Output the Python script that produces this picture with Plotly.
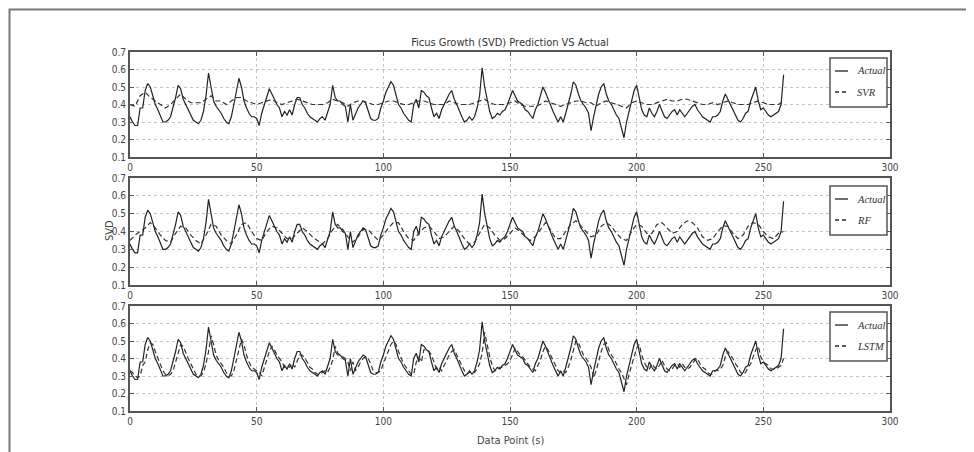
import plotly.graph_objects as go

# ---------------- data ----------------
actual = [
    .33, .30, .28, .28, .38, .38, .48, .52, .50, .45,
    .40, .37, .33, .30, .30, .31, .33, .38, .44, .51,
    .49, .43, .40, .37, .34, .31, .30, .29, .31, .36,
    .45, .58, .50, .42, .39, .37, .35, .32, .30, .29,
    .33, .40, .48, .55, .50, .42, .38, .35, .33, .33,
    .32, .28, .35, .40, .45, .49, .46, .43, .40, .38,
    .33, .36, .34, .37, .34, .40, .44, .44, .40, .38,
    .35, .33, .32, .31, .30, .32, .33, .31, .35, .40,
    .51, .44, .42, .42, .40, .39, .30, .40, .31, .35,
    .38, .40, .42, .41, .37, .32, .31, .31, .32, .38,
    .42, .47, .50, .53, .51, .45, .40, .38, .35, .33,
    .31, .30, .40, .43, .38, .48, .47, .45, .44, .38,
    .33, .35, .32, .37, .40, .43, .46, .48, .43, .40,
    .36, .33, .30, .31, .33, .31, .33, .38, .45, .61,
    .50, .42, .36, .32, .33, .35, .34, .36, .37, .40,
    .44, .48, .45, .42, .41, .40, .37, .36, .34, .32,
    .37, .40, .45, .50, .47, .43, .40, .36, .33, .30,
    .33, .30, .35, .40, .46, .53, .51, .46, .42, .40,
    .38, .35, .25, .33, .40, .46, .50, .52, .46, .42,
    .40, .37, .34, .32, .27, .21, .30, .36, .41, .48,
    .51, .43, .37, .34, .33, .38, .35, .33, .36, .40,
    .36, .33, .32, .34, .36, .37, .34, .37, .35, .33,
    .35, .37, .39, .40, .37, .35, .33, .32, .31, .30,
    .33, .33, .34, .36, .42, .46, .43, .40, .37, .34,
    .31, .30, .32, .35, .36, .42, .46, .50, .42, .37,
    .38, .36, .34, .33, .34, .35, .36, .40, .57,
]
x_actual = list(range(len(actual)))

lstm = [
    .33, .32, .30, .29, .30, .36, .38, .45, .49, .48,
    .44, .40, .37, .33, .31, .30, .31, .33, .38, .43,
    .48, .47, .43, .40, .37, .34, .31, .30, .30, .32,
    .37, .44, .53, .48, .42, .39, .37, .35, .32, .30,
    .30, .33, .39, .46, .51, .48, .42, .38, .35, .34,
    .33, .32, .30, .35, .39, .44, .47, .45, .42, .40,
    .38, .35, .36, .35, .37, .35, .39, .42, .42, .40,
    .38, .35, .34, .32, .31, .31, .32, .33, .32, .35,
    .39, .47, .43, .42, .41, .40, .38, .33, .38, .33,
    .35, .38, .40, .41, .40, .37, .33, .32, .32, .33,
    .37, .41, .45, .48, .50, .48, .44, .40, .37, .35,
    .33, .31, .31, .38, .41, .38, .45, .45, .44, .42,
    .38, .34, .35, .33, .36, .39, .42, .44, .45, .42,
    .39, .36, .33, .31, .32, .33, .32, .34, .37, .43,
    .55, .47, .41, .36, .33, .33, .35, .35, .36, .37,
    .39, .42, .46, .44, .42, .41, .39, .37, .35, .34,
    .33, .36, .39, .44, .47, .45, .42, .39, .36, .33,
    .32, .33, .32, .35, .39, .44, .50, .49, .45, .42,
    .40, .38, .35, .29, .33, .39, .44, .48, .49, .45,
    .42, .40, .37, .34, .32, .28, .25, .31, .36, .41,
    .46, .48, .42, .38, .35, .34, .37, .35, .34, .36,
    .39, .36, .34, .33, .34, .36, .37, .35, .37, .35,
    .34, .35, .37, .39, .40, .37, .35, .34, .32, .31,
    .31, .33, .33, .34, .36, .41, .44, .42, .40, .37,
    .35, .32, .31, .32, .35, .37, .41, .45, .47, .41,
    .38, .37, .36, .34, .34, .34, .35, .36, .40,
]
x_lstm = list(range(len(lstm)))

svr = [
    .40, .39, .45, .47, .44, .42, .40, .38, .40, .43,
    .46, .43, .41, .41, .41, .43, .45, .42, .42, .40,
    .42, .44, .44, .42, .41, .40, .41, .42, .43, .41,
    .40, .41, .42, .43, .42, .41, .40, .40, .40, .41,
    .43, .42, .41, .39, .41, .42, .42, .41, .40, .40,
    .41, .42, .42, .41, .40, .40, .41, .42, .42, .41,
    .40, .40, .40, .42, .41, .40, .40, .40, .41, .42,
    .43, .41, .40, .40, .40, .41, .42, .40, .39, .39,
    .39, .40, .42, .41, .40, .39, .40, .41, .42, .42,
    .41, .41, .39, .41, .42, .41, .40, .39, .38, .41,
    .42, .41, .40, .40, .41, .42, .43, .42, .42, .43,
    .43, .42, .41, .40, .40, .41, .40, .41, .42, .41,
    .40, .40, .40, .41, .42, .41, .40, .40, .40, .42,
]
x_svr = list(range(0, 2 * len(svr), 2))

rf = [
    .35, .38, .40, .42, .45, .42, .38, .35, .34, .39,
    .43, .42, .38, .35, .33, .38, .44, .43, .38, .35,
    .33, .38, .44, .45, .40, .36, .35, .40, .43, .42,
    .39, .36, .36, .39, .42, .40, .37, .35, .33, .36,
    .41, .44, .41, .37, .34, .37, .41, .41, .38, .35,
    .38, .42, .45, .45, .40, .36, .35, .39, .42, .43,
    .40, .36, .37, .40, .43, .40, .36, .33, .34, .39,
    .44, .42, .38, .35, .36, .39, .42, .40, .37, .35,
    .37, .41, .45, .41, .36, .36, .40, .44, .46, .43,
    .40, .37, .38, .43, .45, .43, .39, .36, .35, .40,
    .44, .43, .39, .39, .44, .45, .42, .39, .40, .44,
    .46, .45, .42, .37, .35, .36, .40, .43, .43, .39,
    .36, .38, .43, .45, .44, .40, .37, .36, .39, .40,
]
x_rf = list(range(0, 2 * len(rf), 2))

panel_preds = [("SVR", x_svr, svr), ("RF", x_rf, rf), ("LSTM", x_lstm, lstm)]
x_ticks = [0, 50, 100, 150, 200, 250, 300]
y_ticks = [0.1, 0.2, 0.3, 0.4, 0.5, 0.6, 0.7]

# ---------------- figure ----------------
OFF = 8                      # page body margin offset
W, H = 974 - OFF, 452 - OFF
L_, R_, T_, B_ = 130, 890, 52, 411   # plot area in screen pixels
PW, PH = R_ - L_, B_ - T_


def px(p):  # screen pixel x -> paper
    return (p - L_) / PW


def py(p):  # screen pixel y -> paper
    return (B_ - p) / PH


domains = [(py(157), py(52)), (py(285), py(178)), (py(411), py(306))]
legend_tops = [58, 186, 312]

SANS = "DejaVu Sans Condensed, Liberation Sans Narrow, DejaVu Sans, sans-serif"
tick_font = dict(family=SANS, size=10, color="#444")
leg_font = dict(family="Liberation Serif, DejaVu Serif, serif", size=10.5, color="#333",
                style="italic")
GRID = "#c4c4c4"
AXC = "#555"

fig = go.Figure()
shapes, annos = [], []
for i, (name, xp, yp) in enumerate(panel_preds):
    n = "" if i == 0 else str(i + 1)
    fig.add_trace(go.Scatter(x=x_actual, y=actual, mode="lines", name="Actual",
                             line=dict(color="#222", width=1.2),
                             xaxis="x" + n, yaxis="y" + n, showlegend=False))
    fig.add_trace(go.Scatter(x=xp, y=yp, mode="lines", name=name,
                             line=dict(color="#333", width=1.2, dash="5px,3px"),
                             xaxis="x" + n, yaxis="y" + n, showlegend=False))
    fig.layout["xaxis" + n] = dict(
        range=[0, 300], tickvals=x_ticks, showline=True, linecolor=AXC, linewidth=2,
        mirror="ticks", ticks="inside", ticklen=4, tickcolor=AXC,
        showgrid=True, gridcolor=GRID, griddash="dot", gridwidth=1,
        zeroline=False, tickfont=tick_font, anchor="y" + n, domain=[0, 1])
    fig.layout["yaxis" + n] = dict(
        range=[0.1, 0.7], tickvals=y_ticks, tickformat=".1f", showline=True,
        linecolor=AXC, linewidth=2, mirror="ticks", ticks="inside", ticklen=4,
        tickcolor=AXC, showgrid=True, gridcolor=GRID, griddash="dot",
        gridwidth=1, zeroline=False, tickfont=tick_font, anchor="x" + n,
        domain=list(domains[i]))

    # legend box drawn like the original (short line samples, italic serif labels)
    top = legend_tops[i]
    shapes.append(dict(type="rect", xref="paper", yref="paper",
                       x0=px(830), x1=px(887), y0=py(top + 49), y1=py(top),
                       line=dict(color=AXC, width=1.5), fillcolor="white", layer="above"))
    for k, (lbl, dash) in enumerate([("Actual", "solid"), (name, "4px,3px")]):
        yy = top + 13 + 21 * k
        shapes.append(dict(type="line", xref="paper", yref="paper",
                           x0=px(835), x1=px(848), y0=py(yy), y1=py(yy),
                           line=dict(color="#222", width=1.3, dash=dash), layer="above"))
        annos.append(dict(text=lbl, xref="paper", yref="paper", x=px(855), y=py(yy),
                          xanchor="left", yanchor="middle", showarrow=False, font=leg_font))

annos.append(dict(text="SVD", xref="paper", yref="paper", x=px(109), y=py(231),
                  textangle=-90, showarrow=False, xanchor="center", yanchor="middle",
                  font=dict(family=SANS, size=11, color="#444")))
annos.append(dict(text="Data Point (s)", xref="paper", yref="paper", x=px(510), y=py(440),
                  showarrow=False, xanchor="center", yanchor="middle",
                  font=dict(family=SANS, size=11, color="#444")))

# outer frame of the figure (cropped at right and bottom)
shapes.append(dict(type="rect", xref="paper", yref="paper",
                   x0=px(9.5), x1=px(995), y0=py(470), y1=py(9.5),
                   line=dict(color="#777", width=2), fillcolor="rgba(0,0,0,0)", layer="above"))

fig.update_layout(
    width=W, height=H,
    margin=dict(l=L_ - OFF, r=W - (R_ - OFF), t=T_ - OFF, b=H - (B_ - OFF)),
    paper_bgcolor="white", plot_bgcolor="white",
    title=dict(text="Ficus Growth (SVD) Prediction VS Actual", x=0.5, xref="paper",
               xanchor="center", y=1 - (42 - OFF) / H, yref="container", yanchor="middle",
               font=dict(family=SANS, size=11, color="#333")),
    showlegend=False,
    shapes=shapes,
    annotations=annos,
)

fig.write_html("out.html")
